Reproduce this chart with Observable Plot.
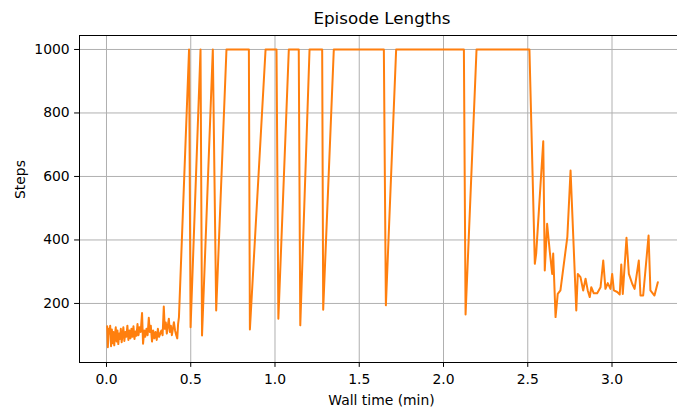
<!DOCTYPE html>
<html>
<head>
<meta charset="utf-8">
<script src="https://cdn.jsdelivr.net/npm/d3@7"></script>
<script src="https://cdn.jsdelivr.net/npm/@observablehq/plot@0.6"></script>
<style>
  html, body { margin: 0; padding: 0; background: white; }
</style>
</head>
<body>
<div id="chart"></div>
<script>
const times = [
  0.004, 0.008, 0.013, 0.018, 0.022, 0.027, 0.032, 0.036, 0.041, 0.046,
  0.050, 0.055, 0.060, 0.065, 0.070, 0.075, 0.080, 0.085, 0.090, 0.095,
  0.100, 0.106, 0.112, 0.118, 0.124, 0.130, 0.136, 0.142, 0.148, 0.154,
  0.160, 0.166, 0.172, 0.178, 0.184, 0.190, 0.196, 0.203, 0.211, 0.217,
  0.224, 0.230, 0.237, 0.244, 0.251, 0.257, 0.263, 0.270, 0.277, 0.284,
  0.291, 0.298, 0.305, 0.312, 0.319, 0.326, 0.333, 0.340, 0.346, 0.352,
  0.358, 0.364, 0.370, 0.376, 0.382, 0.388, 0.394, 0.400, 0.407, 0.414,
  0.420, 0.425, 0.430, 0.490, 0.499, 0.558, 0.567, 0.631, 0.651, 0.712,
  0.845, 0.851, 0.944, 1.009, 1.020, 1.082, 1.141, 1.150, 1.205, 1.280,
  1.286, 1.349, 1.646, 1.658, 1.719, 2.121, 2.131, 2.196, 2.510, 2.542,
  2.550, 2.592, 2.601, 2.615, 2.631, 2.645, 2.651, 2.665, 2.678, 2.694,
  2.735, 2.754, 2.788, 2.797, 2.813, 2.829, 2.843, 2.856, 2.868, 2.877,
  2.892, 2.912, 2.932, 2.948, 2.961, 2.975, 2.991, 3.001, 3.011, 3.031,
  3.046, 3.055, 3.064, 3.086, 3.100, 3.120, 3.134, 3.159, 3.169, 3.185,
  3.217, 3.228, 3.252, 3.272
];
const steps = [
  128, 62, 120, 105, 130, 65, 118, 75, 110, 68,
  100, 125, 80, 115, 72, 105, 88, 120, 78, 100,
  125, 82, 110, 95, 130, 85, 115, 90, 120, 95,
  128, 88, 112, 98, 135, 100, 125, 110, 170, 73,
  115, 95, 120, 100, 155, 110, 130, 80, 115, 90,
  110, 85, 120, 95, 105, 115, 100, 190, 120, 140,
  105, 130, 152, 110, 130, 100, 120, 141, 115, 100,
  90, 136, 157, 1000, 125, 1000, 99, 1000, 178, 1000,
  1000, 118, 1000, 1000, 152, 1000, 1000, 131, 1000, 1000,
  180, 1000, 1000, 194, 1000, 1000, 165, 1000, 1000, 325,
  357, 711, 304, 451, 362, 293, 357, 157, 230, 241,
  410, 619, 178, 293, 283, 241, 278, 241, 220, 251,
  232, 232, 251, 335, 246, 264, 246, 293, 241, 236,
  228, 323, 230, 407, 293, 262, 246, 335, 225, 225,
  414, 241, 225, 267
];
const xTicks = [0, 0.5, 1.0, 1.5, 2.0, 2.5, 3.0];
const yTicks = [200, 400, 600, 800, 1000];
const titleText = "Episode Lengths";
const xLabel = "Wall time (min)";
const yLabel = "Steps";

const data = times.map((t, i) => ({t, s: steps[i]}));
const xDomain = [-0.1602, 3.3887];
const yDomain = [14, 1044];
const font = "DejaVu Sans";

const chart = Plot.plot({
  width: 677,
  height: 409,
  marginLeft: 79,
  marginRight: 0,
  marginTop: 35,
  marginBottom: 47,
  style: {fontFamily: font, fontSize: "13.9px", color: "black", background: "white", overflow: "hidden"},
  x: {domain: xDomain},
  y: {domain: yDomain},
  marks: [
    Plot.gridX(xTicks, {stroke: "#b0b0b0", strokeOpacity: 1, strokeWidth: 1}),
    Plot.gridY(yTicks, {stroke: "#b0b0b0", strokeOpacity: 1, strokeWidth: 1}),
    Plot.line(data, {x: "t", y: "s", stroke: "#ff7f0e", strokeWidth: 2}),
    Plot.ruleX([xDomain[0]], {stroke: "black", strokeWidth: 1}),
    Plot.ruleY([yDomain[0]], {stroke: "black", strokeWidth: 1}),
    Plot.ruleY([yDomain[1]], {stroke: "black", strokeWidth: 1}),
    Plot.axisX(xTicks, {tickFormat: d3.format(".1f"), tickSize: 4.9, tickPadding: 7, fontSize: 13.9, label: null, stroke: "black", strokeWidth: 1}),
    Plot.axisY(yTicks, {tickFormat: d3.format("d"), tickSize: 4.9, tickPadding: 4.9, fontSize: 13.9, label: null, stroke: "black", strokeWidth: 1}),
    Plot.text([titleText], {frameAnchor: "top", text: d => d, dx: 3.5, dy: -12, lineAnchor: "bottom", fontSize: 16.7, fill: "black"}),
    Plot.text([xLabel], {frameAnchor: "bottom", text: d => d, dx: 3, dy: 42, lineAnchor: "bottom", fontSize: 13.9, fill: "black"}),
    Plot.text([yLabel], {frameAnchor: "left", text: d => d, dx: -55, rotate: -90, lineAnchor: "bottom", fontSize: 13.9, fill: "black"})
  ]
});
document.getElementById("chart").appendChild(chart);
</script>
</body>
</html>
